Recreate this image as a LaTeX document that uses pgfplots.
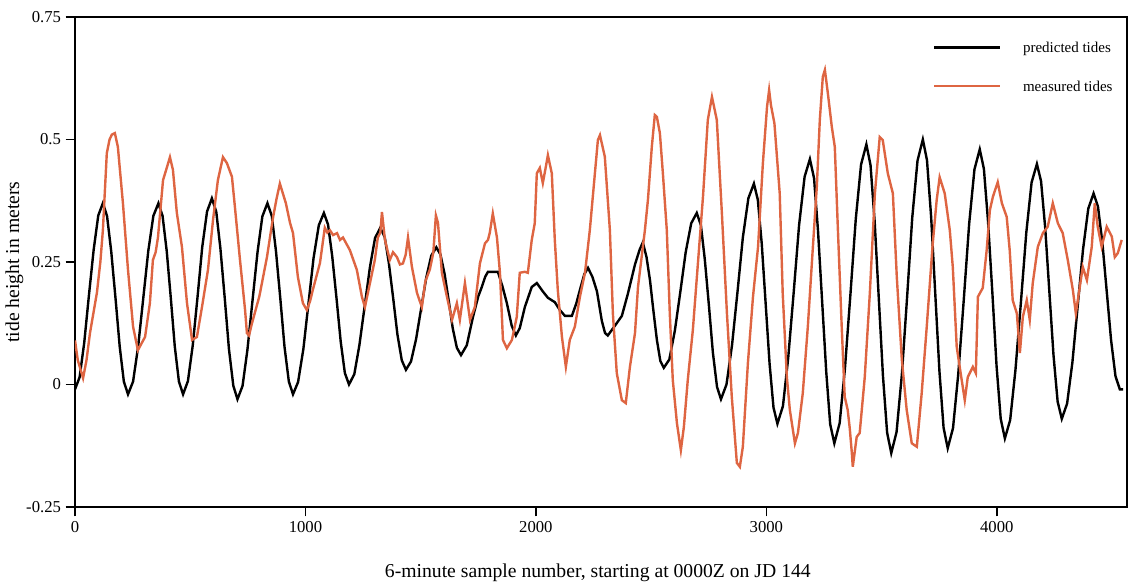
\documentclass[border=0pt]{standalone}
\usepackage{fontspec}
\setmainfont{Liberation Serif}
\usepackage{pgfplots}
\pgfplotsset{compat=1.18}
\definecolor{meas}{RGB}{222,101,66}
\begin{document}
\begin{tikzpicture}
\path[use as bounding box] (-56.25pt,-58.5pt) rectangle (799.5pt,380.25pt);
\begin{axis}[
  scale only axis,
  width=789pt, height=367.5pt,
  xmin=0, xmax=4565, ymin=-0.25, ymax=0.75,
  axis line style={line width=1.1pt},
  tick align=outside, tick pos=left,
  major tick length=7pt,
  every tick/.style={black, line width=1.1pt},
  xtick={0,1000,2000,3000,4000},
  xticklabels={0,1000,2000,3000,4000},
  ytick={-0.25,0,0.25,0.5,0.75},
  yticklabels={-0.25,0,0.25,0.5,0.75},
  tick label style={font=\fontsize{12.5}{14}\selectfont},
  xlabel={6-minute sample number, starting at 0000Z on JD 144},
  ylabel={tide height in meters},
  every axis x label/.style={at={(axis description cs:0.497,-0.1347)}, anchor=center, font=\fontsize{14.75}{17}\selectfont},
  every axis y label/.style={at={(axis description cs:-0.0575,0.5)}, rotate=90, anchor=center, font=\fontsize{14.75}{17}\selectfont},
  legend cell align=left,
  legend image code/.code={\draw[#1] (0pt,0pt) -- (49.5pt,0pt);},
  legend style={draw=none, fill=none, at={(axis description cs:0.8156,0.954)}, anchor=north west, inner sep=0pt, row sep=17pt, font=\fontsize{11.25}{13}\selectfont, /tikz/every odd column/.append style={column sep=14pt}, nodes={inner sep=2pt, text depth=0pt}},
]
\addplot[black, line width=1.8pt] coordinates {
(0,-0.01)(20,0.015)(40,0.085)(60,0.18)(81,0.275)(101,0.345)(121,0.37)
(139,0.344)(157,0.2725)(176,0.175)(194,0.0775)(212,0.006)(230,-0.02)
(252,0.006)(274,0.0775)(296,0.175)(318,0.2725)(340,0.344)(362,0.37)
(380,0.344)(398,0.2725)(416,0.175)(433,0.0775)(451,0.006)(469,-0.02)
(490,0.007)(511,0.08)(532,0.18)(552,0.28)(573,0.353)(594,0.38)
(613,0.3525)(631,0.2775)(650,0.175)(668,0.0725)(687,-0.0025)(705,-0.03)
(727,-0.003)(748,0.07)(770,0.17)(792,0.27)(813,0.343)(835,0.37)
(854,0.344)(872,0.2725)(891,0.175)(909,0.0775)(928,0.006)(946,-0.02)
(968,0.005)(991,0.0725)(1013,0.165)(1035,0.2575)(1058,0.325)(1080,0.35)
(1098,0.3265)(1116,0.2625)(1135,0.175)(1153,0.0875)(1171,0.0235)(1189,0)
(1212,0.021)(1234,0.08)(1257,0.16)(1280,0.24)(1302,0.299)(1325,0.32)
(1344,0.3006)(1362,0.2475)(1381,0.175)(1399,0.1025)(1418,0.0494)(1436,0.03)
(1458,0.047)(1480,0.0925)(1502,0.155)(1524,0.2175)(1546,0.263)(1568,0.28)
(1586,0.265)(1604,0.225)(1622,0.17)(1639,0.115)(1657,0.075)(1675,0.06)
(1700,0.08)(1727,0.138)(1750,0.18)(1766,0.2)(1780,0.22)(1792,0.23)(1835,0.23)
(1855,0.2)(1874,0.166)(1895,0.12)(1913,0.1)
(1930,0.115)(1952,0.158)(1982,0.199)(2004,0.207)
(2030,0.19)(2052,0.177)(2082,0.168)(2104,0.152)(2126,0.14)(2156,0.14)
(2175,0.165)(2191,0.193)(2210,0.225)(2226,0.238)
(2245,0.22)(2265,0.19)(2286,0.13)(2300,0.105)(2312,0.1)
(2343,0.12)(2373,0.14)(2399,0.185)(2430,0.245)(2450,0.275)(2464,0.29)
(2480,0.26)(2495,0.213)(2510,0.15)(2525,0.091)(2540,0.048)(2555,0.034)
(2579,0.051)(2603,0.11)(2627,0.19)(2650,0.27)(2674,0.329)(2698,0.35)
(2716,0.325)(2733,0.255)(2751,0.16)(2768,0.065)(2786,-0.005)(2803,-0.03)
(2827,0)(2851,0.08)(2875,0.19)(2898,0.3)(2922,0.38)(2946,0.41)
(2963,0.377)(2980,0.2875)(2997,0.165)(3014,0.0425)(3031,-0.047)(3048,-0.08)
(3072,-0.044)(3095,0.055)(3119,0.19)(3142,0.325)(3166,0.424)(3189,0.46)
(3207,0.421)(3224,0.315)(3242,0.17)(3260,0.025)(3277,-0.081)(3295,-0.12)
(3318,-0.079)(3341,0.0325)(3365,0.185)(3388,0.3375)(3411,0.449)(3434,0.49)
(3452,0.448)(3470,0.3325)(3488,0.175)(3506,0.0175)(3524,-0.098)(3542,-0.14)
(3565,-0.097)(3588,0.02)(3611,0.18)(3633,0.34)(3656,0.457)(3679,0.5)
(3697,0.458)(3715,0.3425)(3733,0.185)(3751,0.0275)(3769,-0.088)(3787,-0.13)
(3810,-0.089)(3833,0.0225)(3857,0.175)(3880,0.3275)(3903,0.439)(3926,0.48)
(3944,0.44)(3962,0.3325)(3981,0.185)(3999,0.0375)(4017,-0.07)(4035,-0.11)
(4058,-0.0725)(4081,0.03)(4105,0.17)(4128,0.31)(4151,0.4125)(4174,0.45)
(4192,0.415)(4210,0.32)(4228,0.19)(4246,0.06)(4264,-0.035)(4282,-0.07)
(4305,-0.039)(4328,0.045)(4351,0.16)(4374,0.275)(4397,0.359)(4420,0.39)
(4439,0.363)(4458,0.29)(4477,0.19)(4496,0.09)(4515,0.017)(4534,-0.01)(4548,-0.01)
};
\addlegendentry{predicted tides}
\addplot[meas, line width=1.8pt] coordinates {
(0,0.09)(12,0.05)(35,0.013)(50,0.05)(65,0.105)(95,0.187)(110,0.25)(121,0.315)
(138,0.472)(150,0.5)(160,0.51)(173,0.513)(186,0.485)(208,0.37)(230,0.234)
(252,0.118)(273,0.07)(290,0.085)(304,0.097)(325,0.166)(338,0.254)(350,0.27)
(360,0.3)(382,0.417)(400,0.445)(412,0.464)(425,0.438)(442,0.35)(464,0.281)
(486,0.166)(508,0.091)(529,0.097)(551,0.158)(577,0.234)(599,0.336)(620,0.417)
(642,0.464)(659,0.452)(681,0.424)(694,0.362)(716,0.254)(738,0.152)(746,0.105)
(755,0.1)(768,0.125)(800,0.18)(833,0.26)(859,0.34)(875,0.38)(889,0.41)
(902,0.39)(915,0.37)(933,0.33)(946,0.309)(967,0.22)(989,0.166)(1006,0.152)
(1020,0.17)(1032,0.193)(1063,0.248)(1084,0.32)(1095,0.31)(1106,0.315)
(1120,0.305)(1137,0.309)(1150,0.295)(1163,0.3)(1193,0.274)(1223,0.234)
(1245,0.179)(1258,0.158)(1280,0.207)(1301,0.254)(1314,0.3)(1325,0.31)
(1332,0.352)(1345,0.295)(1366,0.254)(1380,0.27)(1397,0.26)(1410,0.245)
(1423,0.247)(1435,0.265)(1445,0.3)(1462,0.24)(1484,0.187)(1505,0.158)
(1520,0.21)(1540,0.235)(1555,0.27)(1566,0.345)(1575,0.33)(1592,0.228)
(1614,0.179)(1636,0.132)(1657,0.166)(1670,0.132)(1692,0.207)(1714,0.132)
(1735,0.158)(1757,0.247)(1779,0.288)(1792,0.295)(1800,0.31)(1813,0.349)
(1831,0.3)(1844,0.228)(1857,0.091)(1874,0.074)(1896,0.091)(1917,0.138)
(1930,0.228)(1952,0.23)(1965,0.228)(1982,0.295)(1995,0.329)(2004,0.431)
(2017,0.442)(2030,0.411)(2043,0.444)(2052,0.468)(2069,0.431)(2082,0.295)
(2095,0.193)(2113,0.097)(2130,0.036)(2147,0.091)(2169,0.118)(2191,0.179)
(2213,0.228)(2234,0.315)(2256,0.431)(2269,0.499)(2278,0.509)(2299,0.465)
(2321,0.315)(2334,0.145)(2351,0.023)(2373,-0.032)(2390,-0.038)(2408,0.036)
(2430,0.105)(2443,0.199)(2473,0.315)(2486,0.376)(2503,0.485)(2516,0.55)
(2525,0.546)(2538,0.513)(2551,0.431)(2568,0.315)(2581,0.145)(2594,0.009)
(2612,-0.079)(2629,-0.134)(2642,-0.087)(2659,0.009)(2681,0.111)(2703,0.247)
(2725,0.383)(2746,0.54)(2764,0.587)(2785,0.54)(2807,0.35)(2829,0.145)
(2850,-0.025)(2872,-0.16)(2885,-0.168)(2898,-0.127)(2920,0.044)(2942,0.179)
(2964,0.281)(2985,0.452)(3003,0.567)(3012,0.601)(3020,0.57)(3035,0.533)
(3058,0.39)(3071,0.186)(3089,0.015)(3102,-0.052)(3124,-0.12)(3137,-0.099)
(3158,-0.018)(3180,0.118)(3202,0.281)(3219,0.404)(3232,0.54)(3245,0.628)
(3254,0.642)(3267,0.594)(3284,0.526)(3297,0.485)(3310,0.322)(3327,0.118)
(3340,-0.025)(3353,-0.052)(3362,-0.09)(3371,-0.14)(3375,-0.168)(3392,-0.107)
(3405,-0.099)(3427,0.015)(3449,0.186)(3471,0.39)(3492,0.505)(3505,0.499)
(3527,0.431)(3549,0.39)(3566,0.22)(3588,0.05)(3609,-0.052)(3631,-0.12)
(3653,-0.127)(3674,-0.018)(3696,0.118)(3722,0.288)(3739,0.376)(3752,0.423)
(3774,0.39)(3796,0.315)(3809,0.24)(3826,0.077)(3839,0.036)(3861,-0.032)
(3874,0.015)(3896,0.036)(3909,0.023)(3918,0.179)(3939,0.197)(3956,0.274)
(3970,0.356)(3983,0.383)(4004,0.413)(4022,0.37)(4043,0.342)(4056,0.274)
(4069,0.172)(4087,0.145)(4100,0.064)(4113,0.138)(4130,0.172)(4143,0.132)
(4156,0.207)(4178,0.281)(4200,0.309)(4221,0.322)(4243,0.37)(4265,0.329)
(4286,0.309)(4308,0.254)(4330,0.193)(4343,0.145)(4360,0.199)(4373,0.24)
(4391,0.213)(4412,0.281)(4425,0.37)(4438,0.322)(4455,0.281)(4477,0.322)
(4499,0.302)(4512,0.26)(4525,0.268)(4542,0.295)
};
\addlegendentry{measured tides}
\end{axis}
\end{tikzpicture}
\end{document}
